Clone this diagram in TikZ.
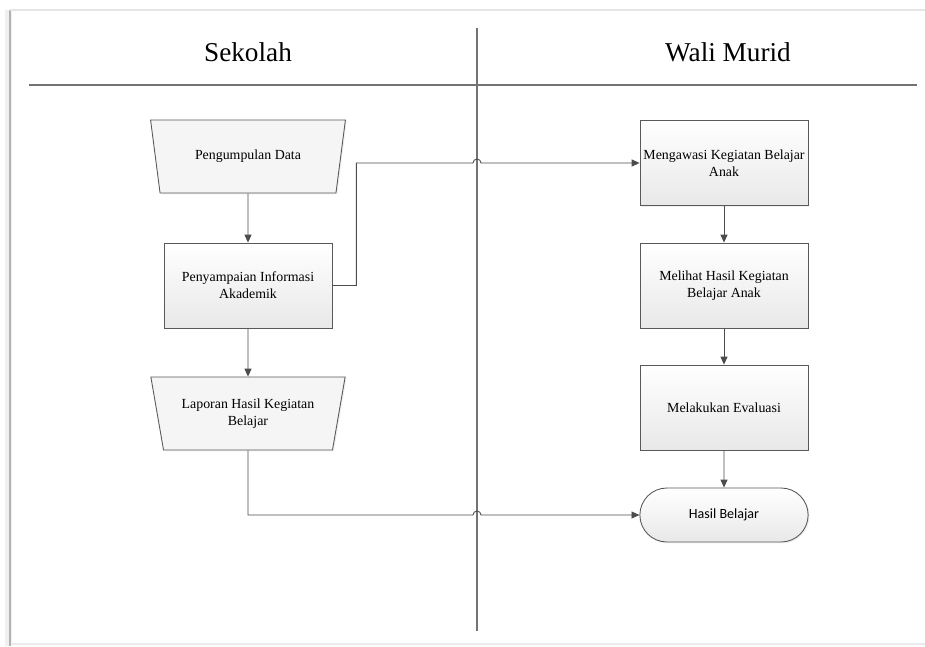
\documentclass[tikz,border=0pt]{standalone}
\usepackage{fontspec}
\setmainfont{Liberation Serif}
\newfontfamily\calibri{Carlito}
\usetikzlibrary{positioning}
\usetikzlibrary{shapes.geometric, shapes.misc, arrows.meta, calc, shadows}

\tikzset{
  lane/.style={draw=black!55, line width=0.6pt},
  flow/.style={draw=black!70, line width=0.5pt, -{Triangle[length=4.5pt,width=4pt]}},
  boxshadow/.style={drop shadow={opacity=0.12, shadow xshift=0.8pt, shadow yshift=-0.8pt}},
  proc/.style={rectangle, draw=black!65, line width=0.5pt, top color=white, bottom color=black!9, boxshadow,
    minimum width=3.36cm, minimum height=1.7cm, inner xsep=1pt, align=center, font=\fontsize{7.9}{9.8}\selectfont},
  manual/.style={trapezium, shape border rotate=180, trapezium angle=75.4, trapezium stretches=true,
    draw=black!65, line width=0.5pt, fill=black!4, boxshadow,
    minimum width=3.92cm, minimum height=1.46cm, align=center, font=\fontsize{7.9}{9.8}\selectfont},
  term/.style={rounded rectangle, draw=black!65, line width=0.5pt, top color=white, bottom color=black!9, boxshadow,
    minimum width=3.6cm, minimum height=1.08cm, font=\calibri\fontsize{8}{9.6}\selectfont},
  title/.style={font=\fontsize{15.5}{18}\selectfont}
}

\begin{document}
\begin{tikzpicture}[x=0.02cm, y=-0.02cm]
\useasboundingbox (0,0) rectangle (925,646);
% page frame
\fill[black!6] (5,10) rectangle (12,646);
\draw[black!30, line width=1pt] (10,10) -- (10,646);
\draw[black!10, line width=1.2pt] (10,10) -- (925,10);
\draw[black!8, line width=0.8pt] (12,644) -- (925,644);

% lanes
\draw[lane] (29,85) -- (917,85);
\draw[lane] (477,28) -- (477,631);
\node[title] (sekolah) at (248,52) {Sekolah};
\node[title] (wali) at (728,52) {Wali Murid};
\coordinate (hop1) at (477,163);
\coordinate (hop2) at (477,515);

% Sekolah
\node[manual] (data) at (248,156.5) {Pengumpulan Data};
\node[proc] (info) at (248,285.5) {Penyampaian Informasi\\Akademik};
\node[manual] (lapor) at (248,413.5) {Laporan Hasil Kegiatan\\Belajar};

% Wali Murid
\node[proc] (awasi) at (724,163) {Mengawasi Kegiatan Belajar\\Anak};
\node[proc] (lihat) at (724,285.5) {Melihat Hasil Kegiatan\\Belajar Anak};
\node[proc] (evaluasi) at (724,407.5) {Melakukan Evaluasi};
\node[term] (hasil) at (724,515) {Hasil Belajar};

% connectors
\draw[flow] (data) -- (info);
\draw[flow] (info) -- (lapor);
\draw[flow] (awasi) -- (lihat);
\draw[flow] (lihat) -- (evaluasi);
\draw[flow] (evaluasi) -- (hasil);
\draw[flow] (info.east) -- ++(24,0) |- ($(hop1)+(-4,0)$) arc[start angle=180, end angle=360, radius=4] -- (awasi.west);
\draw[flow] (lapor.south) |- ($(hop2)+(-4,0)$) arc[start angle=180, end angle=360, radius=4] -- (hasil.west);

\end{tikzpicture}
\end{document}
